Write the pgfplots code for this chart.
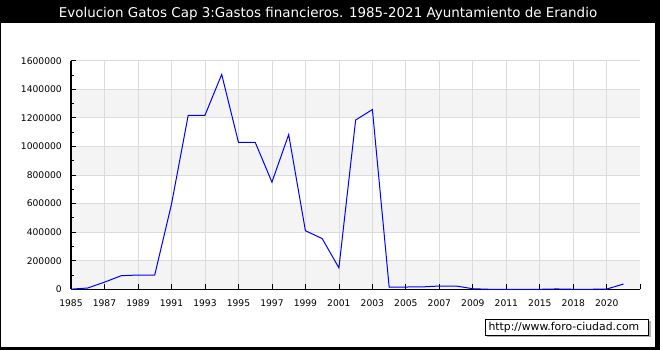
\documentclass[border=0pt]{standalone}
\usepackage{fontspec}
\setmainfont{DejaVu Sans}
\usepackage{pgfplots}
\pgfplotsset{compat=1.18}
\definecolor{band}{HTML}{F4F4F4}
\definecolor{gridc}{HTML}{DCDCDC}
\begin{document}
\begin{tikzpicture}[x=1bp,y=1bp]
\fill[black] (0,0) rectangle (660,350);
\fill[white] (1,3) rectangle (655,326.7);
\node[white, font=\fontsize{13.5}{16}\selectfont, anchor=base, inner sep=0pt] at (328,332.7) {Evolucion Gatos Cap 3:Gastos financieros. 1985-2021 Ayuntamiento de Erandio};
\begin{axis}[
  at={(71bp,60.7bp)}, anchor=south west, scale only axis,
  width=569.3bp, height=228.6bp,
  xmin=0, xmax=34, ymin=0, ymax=1600000,
  hide axis,
]
\addplot[fill=band, draw=none] coordinates {(0,0) (34,0) (34,200000) (0,200000)} -- cycle;
\addplot[fill=band, draw=none] coordinates {(0,400000) (34,400000) (34,600000) (0,600000)} -- cycle;
\addplot[fill=band, draw=none] coordinates {(0,800000) (34,800000) (34,1000000) (0,1000000)} -- cycle;
\addplot[fill=band, draw=none] coordinates {(0,1200000) (34,1200000) (34,1400000) (0,1400000)} -- cycle;
\end{axis}
\begin{axis}[
  at={(71bp,60.7bp)}, anchor=south west, scale only axis,
  width=569.3bp, height=228.6bp,
  xmin=0, xmax=34, ymin=0, ymax=1600000,
  axis x line=bottom, axis y line=left,
  axis line style={-, black, line width=1.2bp},
  xtick={0,2,...,32},
  xticklabels={1985,1987,1989,1991,1993,1995,1997,1999,2001,2003,2005,2007,2009,2011,2015,2018,2020},
  extra x ticks={34}, extra x tick labels={}, extra x tick style={grid=none},
  ytick={0,200000,...,1600000}, minor y tick num=1,
  xmajorgrids, ymajorgrids,
  major grid style={gridc, line width=0.8bp},
  tick align=inside, major tick length=5bp, minor tick length=2.5bp,
  tick style={black, line width=0.8bp},
  ticklabel style={font=\fontsize{9.2}{11}\selectfont},
  scaled y ticks=false,
  yticklabel style={/pgf/number format/fixed, /pgf/number format/1000 sep={}, /pgf/number format/assume math mode=true, inner sep=0pt, anchor=east, xshift=-9bp},
  xticklabel style={inner sep=0pt, anchor=north, yshift=-10bp},
  clip=false,
]
\addplot[blue, line width=1bp, mark=none] coordinates {
(0,1000) (1,9000) (2,50000) (3,95000) (4,100000) (5,100000) (6,595000)
(7,1218000) (8,1218000) (9,1504000) (10,1029000) (11,1029000) (12,750000)
(13,1083000) (14,410000) (15,355000) (16,150000) (17,1185000) (18,1258000)
(19,16000) (20,16000) (21,17000) (22,23000) (23,23000) (24,4000) (25,0)
(26,0) (27,0) (28,0) (29,2500) (30,0) (31,0) (32,2000) (33,37000)
};
\end{axis}
\fill[gray!60] (487.3,13) rectangle (650.7,28.7);
\filldraw[fill=white, draw=black, line width=1bp] (485.3,15) rectangle (648.7,30.7);
\node[anchor=base west, font=\fontsize{10.9}{13}\selectfont, inner sep=0pt] at (488.3,20) {http://www.foro-ciudad.com};
\end{tikzpicture}
\end{document}
